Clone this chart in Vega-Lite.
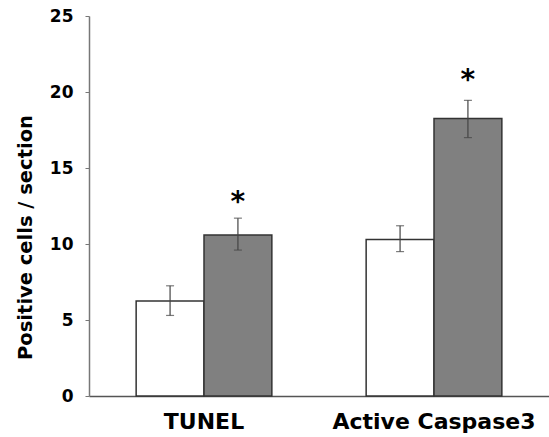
{
  "$schema": "https://vega.github.io/schema/vega-lite/v6.json",
  "width": 460,
  "height": 380,
  "autosize": {"type": "none"},
  "padding": {"left": 89, "top": 16, "right": 0, "bottom": 41},
  "background": "white",
  "config": {"view": {"stroke": null}, "font": "DejaVu Sans"},
  "data": {
    "values": [
      {"group": "TUNEL", "cond": "control", "mean": 6.25, "lo": 5.3, "hi": 7.25, "star": "", "starY": null},
      {"group": "TUNEL", "cond": "treated", "mean": 10.6, "lo": 9.6, "hi": 11.7, "star": "*", "starY": 13.1},
      {"group": "Active Caspase3", "cond": "control", "mean": 10.3, "lo": 9.5, "hi": 11.2, "star": "", "starY": null},
      {"group": "Active Caspase3", "cond": "treated", "mean": 18.25, "lo": 17.0, "hi": 19.45, "star": "*", "starY": 21.1}
    ]
  },
  "encoding": {
    "x": {
      "field": "group", "type": "nominal", "sort": ["TUNEL", "Active Caspase3"],
      "scale": {"paddingInner": 0.41, "paddingOuter": 0.205},
      "axis": {"title": null, "labelAngle": 0, "ticks": false, "labelLimit": 0, "labelFont": "DejaVu Sans", "labelFontWeight": "bold", "labelFontSize": 22, "labelColor": "black", "labelPadding": 15, "domainColor": "#555", "domainWidth": 1.5}
    },
    "xOffset": {"field": "cond", "type": "nominal", "sort": ["control", "treated"], "scale": {"paddingInner": 0, "paddingOuter": 0}}
  },
  "layer": [
    {
      "mark": {"type": "bar", "stroke": "#333", "strokeWidth": 1.5},
      "encoding": {
        "y": {
          "field": "mean", "type": "quantitative",
          "scale": {"domain": [0, 25], "nice": false},
          "axis": {"values": [0, 5, 10, 15, 20, 25], "grid": false, "title": "Positive cells / section", "titleFont": "DejaVu Sans", "titleFontWeight": "bold", "titleFontSize": 19.5, "titleColor": "black", "titleAngle": -90, "titleBaseline": "alphabetic", "titleX": -58, "titleY": 221, "titleAnchor": null, "labelFont": "DejaVu Sans", "labelFontWeight": "bold", "labelFontSize": 17, "labelColor": "black", "labelPadding": 12, "tickSize": 4, "tickColor": "#777", "domainColor": "#777", "domainWidth": 1.5}
        },
        "fill": {"field": "cond", "type": "nominal", "scale": {"domain": ["control", "treated"], "range": ["#ffffff", "#808080"]}, "legend": null}
      }
    },
    {
      "mark": {"type": "rule", "color": "#444", "strokeWidth": 1.2},
      "encoding": {"y": {"field": "lo", "type": "quantitative"}, "y2": {"field": "hi"}}
    },
    {
      "mark": {"type": "tick", "color": "#444", "orient": "horizontal", "size": 8, "thickness": 1.2},
      "encoding": {"y": {"field": "lo", "type": "quantitative"}}
    },
    {
      "mark": {"type": "tick", "color": "#444", "orient": "horizontal", "size": 8, "thickness": 1.2},
      "encoding": {"y": {"field": "hi", "type": "quantitative"}}
    },
    {
      "transform": [{"filter": "datum.star != ''"}],
      "mark": {"type": "text", "font": "DejaVu Sans", "fontWeight": "bold", "fontSize": 28, "baseline": "middle", "dy": 6, "color": "black"},
      "encoding": {"y": {"field": "starY", "type": "quantitative"}, "text": {"field": "star"}}
    }
  ]
}
